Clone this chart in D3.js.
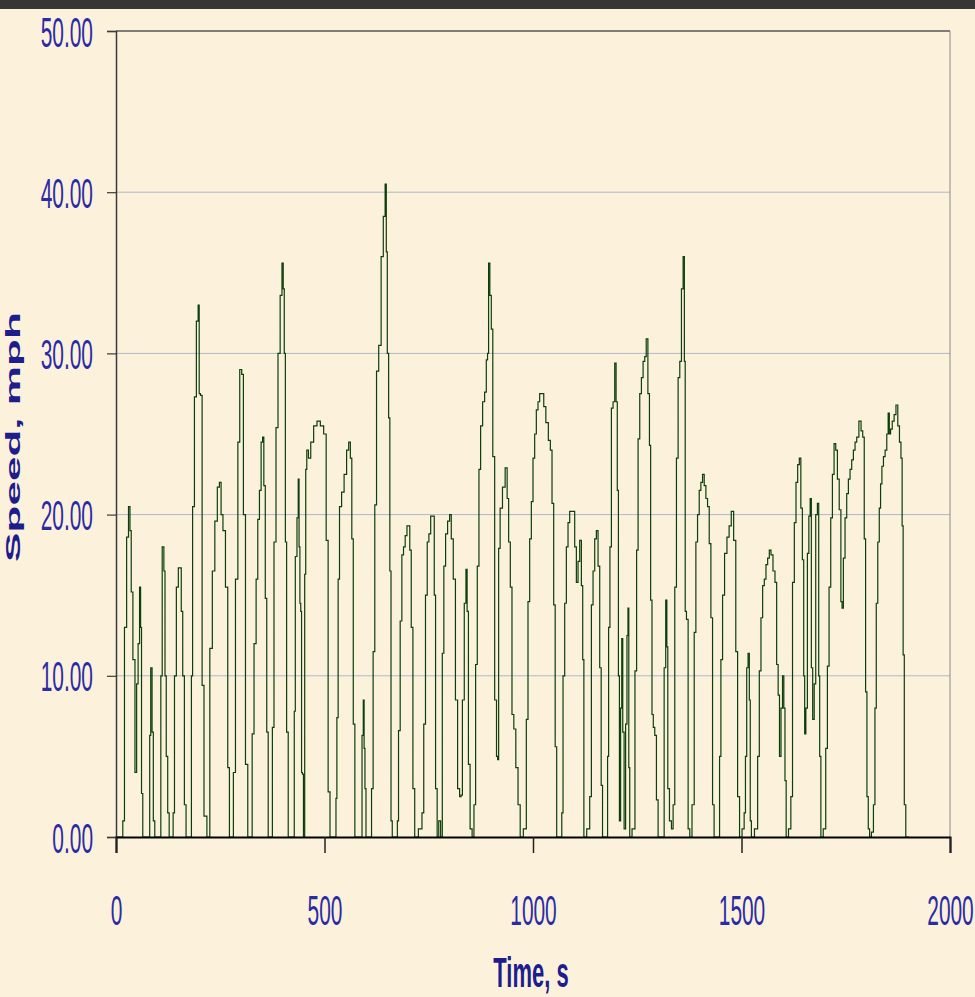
<!DOCTYPE html>
<html>
<head>
<meta charset="utf-8">
<script src="https://cdn.jsdelivr.net/npm/d3@7"></script>
<style>
  body { margin: 0; background: #fcf2dc; }
  svg { display: block; }
</style>
</head>
<body>
<div id="chart"></div>
<script>
// speed trace (time in s, speed in mph)
var timeS = [0, 15, 17.6, 23, 28, 32, 35, 38, 43, 48, 51, 55, 58, 60, 62.4, 66,
  80, 81.6, 85, 88, 91, 95, 107, 108, 113.6, 116, 119, 122, 126, 129,
  136, 138, 142.5, 147, 152, 155, 158, 162, 166, 170, 180, 181.7, 185.7, 190.5, 195, 199, 200, 205, 208, 214, 222,
  228, 234, 240, 246, 250, 254, 259, 266, 270, 274, 280, 283, 290, 294.5, 299, 304, 307, 314, 318,
  325, 328, 334, 338, 342, 346, 350, 353, 356, 360, 363, 367, 374, 376, 381.7, 385.7, 391.3, 396, 400, 402, 405, 407.3, 411, 415,
  427, 428, 432, 436, 438, 440, 442, 444, 446, 448, 451, 454, 456, 459, 464, 470, 478, 486, 494, 502, 506, 511.4, 515,
  527, 528, 531.4, 534, 538, 544, 550, 556, 560, 564, 567, 571, 574.6, 588, 592, 594, 596, 598, 601,
  611, 614.6, 618.6, 622.6, 627, 633, 638.6, 643.4, 647.4, 649, 652.2, 655.4, 658, 661, 664,
  674, 675.5, 679.5, 683.5, 687.5, 691.5, 695.5, 700, 703, 706, 710, 714, 718.7,
  731.5, 736, 740, 744.4, 748.3, 752.3, 757, 762, 764.4, 768.3, 772, 776, 781,
  784, 788.4, 792.4, 798, 802, 806, 811.6, 816.4, 822, 826, 829, 832.4, 838, 840.4, 843.6, 846.7, 851.6, 856.4,
  860.4, 864.4, 868.4, 872.4, 876.4, 882, 886, 890, 892, 895, 898, 902, 905.2, 911, 914, 916.4, 918.8, 923.6, 930, 936.4,
  939.6, 943.6, 947.6, 951.6, 956.4, 961.2, 967, 971.6, 982, 986, 990, 994, 998, 1002, 1006, 1010, 1014, 1018, 1024,
  1027.6, 1034, 1039.6, 1043.6, 1047.6, 1051.6, 1054.8, 1058.8, 1068, 1070, 1074, 1078, 1082, 1086, 1090, 1098, 1102, 1106,
  1110, 1114, 1118, 1120.4, 1123.6, 1134, 1138, 1142, 1146, 1150, 1154, 1158, 1162, 1165, 1168.5,
  1178, 1179.7, 1183, 1186, 1190, 1194, 1198, 1200.5, 1203.7, 1206, 1208.5, 1211.7, 1214, 1216.5, 1220.5, 1223.7, 1227, 1228.5, 1231, 1233,
  1242, 1247, 1250, 1254, 1258, 1262, 1266, 1270, 1273, 1278, 1280.5, 1283.7, 1287, 1290, 1294, 1298, 1302,
  1312.5, 1316.5, 1320, 1322, 1324.5, 1330, 1334, 1338, 1342, 1346, 1350, 1354, 1358, 1362, 1364, 1366, 1370, 1374, 1378,
  1384.6, 1388.6, 1392.6, 1396.6, 1400.6, 1404.6, 1408.6, 1412.6, 1416.6, 1420.6, 1424.6, 1428.6, 1432.6, 1436,
  1446.2, 1448.6, 1452.6, 1456.6, 1462.2, 1468, 1472.6, 1478.3, 1484, 1488.6, 1492.7, 1498,
  1504.7, 1508, 1511, 1514, 1517.5, 1520, 1522, 1525.5,
  1536.7, 1540.7, 1544.7, 1548.7, 1552.7, 1556.7, 1560.7, 1564.7, 1568.7, 1572.7, 1578.3, 1582.3, 1586.3, 1589.5, 1592.7, 1596.7, 1600, 1603, 1605.5, 1608.7,
  1616.7, 1620, 1624.7, 1628.7, 1632.7, 1636.7, 1640.7, 1643.9, 1648, 1650.3, 1652.7, 1656, 1660, 1663, 1666.3, 1668.7, 1672.7, 1676, 1680, 1684, 1686.3, 1688.7, 1692,
  1700, 1704, 1708, 1712, 1716, 1720, 1724, 1728, 1732, 1736.7, 1740, 1742.3, 1746.3, 1750.3, 1754.3, 1758.3, 1762.3, 1766.3, 1770.3, 1774.3, 1778.3, 1784.7, 1788.7, 1792.7, 1796, 1799.2, 1802.4, 1805.6, 1808.8,
  1814.4, 1818.4, 1821.6, 1824.8, 1828.8, 1832, 1835, 1838.4, 1842.4, 1846.4, 1850.4, 1853, 1856, 1859, 1864, 1868, 1872.8, 1876.8, 1880.8, 1884, 1886.4, 1888.8, 1892, 1896, 1902];

var speedMph = [0, 0, 1, 13, 18.6, 20.5, 19, 15.2, 11, 4, 9.5, 12, 15.5, 13, 2.7, 0,
  0, 6.3, 10.5, 6.5, 1, 0, 0, 10, 18, 16.5, 10, 5, 1.5, 0,
  0, 1.5, 10, 15.5, 16.7, 16.7, 14, 10, 2, 0, 0, 10, 20.5, 27.3, 32, 33, 27.5, 27.4, 9.4, 1.3, 0,
  11.7, 16.5, 19.6, 21.7, 22, 20, 19, 15.5, 4.3, 0, 0, 4, 16, 24.5, 29, 28.7, 20, 4.5, 0,
  0, 6.4, 12, 16, 19.7, 21.5, 24.5, 24.8, 21.8, 14.8, 6.5, 0, 0, 6.8, 18.3, 25.4, 30, 33.6, 35.6, 34, 30, 18.3, 6.5, 0,
  0, 7.8, 17.4, 19.8, 22.2, 18, 14.5, 14, 4, 3.9, 0, 16.3, 22.8, 24, 23.5, 24.5, 25.5, 25.8, 25.5, 25, 18.4, 2.8, 0,
  0, 2.4, 7.4, 16, 20.5, 21.4, 22.5, 24, 24.5, 23.5, 18.5, 7, 0, 0, 6.3, 8.5, 5.5, 3, 0,
  0, 3, 11.5, 20.6, 28.9, 30.5, 36, 38.5, 40.5, 36.3, 30, 26, 16.5, 1, 0,
  0, 1, 6.6, 13.4, 17.5, 18, 18.7, 19.3, 19.3, 17.8, 13, 3, 0,
  0.5, 1.5, 7, 15, 18.3, 18.8, 19.9, 19.9, 15, 3, 0, 1, 0,
  11.4, 16.8, 18.8, 19.6, 20, 18.5, 16, 8.5, 3, 2.5, 2.6, 8.5, 14.5, 16.6, 14, 4.5, 0.5, 0,
  2, 10.7, 16.8, 22.8, 25.5, 27, 27.6, 29.6, 30, 35.6, 33.6, 31.5, 23.6, 8.5, 5, 4.8, 17.9, 20.4, 21.7, 22.9,
  21, 18.3, 15.5, 7.6, 6.7, 4.3, 2, 0, 0.5, 7.3, 14.6, 18.5, 20.8, 23.5, 25, 26.5, 27, 27.5, 27.5,
  26.7, 25.7, 24.6, 24, 20.7, 14.4, 5.6, 0, 0, 1.5, 10, 14.5, 18, 19.5, 20.2, 20.2, 18, 15.8,
  17.1, 18.4, 15.6, 11, 0, 0.5, 2.5, 14.4, 16.5, 18.5, 19, 16.8, 10.5, 3.2, 0,
  0, 5, 13, 18, 26.6, 27, 29.4, 27, 21.5, 10, 1, 8, 12.3, 6.5, 0.5, 7, 12.5, 14.2, 4.3, 0,
  0.5, 10.3, 17.8, 24.7, 27.5, 28.5, 29.5, 29.8, 30.9, 27.5, 24.3, 14.7, 7.6, 6.8, 6.3, 2.3, 0,
  0, 10.5, 14.7, 11.8, 3, 1, 0.5, 2, 15.5, 23.5, 28.5, 29.5, 34, 36, 29.5, 14, 13.5, 0.5, 0,
  2, 12.7, 18.3, 20, 21.5, 22, 22.5, 21.8, 21, 20.5, 18.2, 13.6, 2, 0,
  0, 5, 11, 15, 17.6, 18.6, 19.3, 20.2, 18.4, 11.5, 2.5, 0,
  0.5, 1.5, 5, 10.5, 11.4, 8.5, 1, 0,
  0.5, 5, 10.3, 13.6, 15.6, 16, 16.9, 17.3, 17.8, 17.5, 16.5, 15.8, 10.7, 8.8, 5, 8, 10, 8, 3.5, 0,
  0.5, 2.5, 15.8, 19.5, 22, 23.1, 23.5, 20.4, 17.2, 10, 6.4, 8, 17.6, 19.9, 21, 10.5, 7.3, 9.5, 20, 20.7, 10, 5, 0,
  0.5, 5.5, 10.6, 15.5, 19.8, 22.5, 24.4, 24, 22.2, 20.3, 14.6, 14.2, 17.3, 19.8, 21.3, 22.2, 22.8, 23.4, 24, 24.5, 24.8, 25.8, 25.2, 24.8, 18.5, 9, 2.5, 0.5, 0,
  0.3, 2, 8, 14.5, 18.3, 20.4, 21.9, 23, 23.6, 24, 25, 26.3, 25, 25.3, 25.8, 26.2, 26.8, 25.5, 24.5, 23.5, 19.3, 11.3, 2, 0, 0];

var xTicks = [0, 500, 1000, 1500, 2000];
var yTicks = [0, 10, 20, 30, 40, 50];

var data = timeS.map(function(t, i) { return {t: t, v: speedMph[i]}; });

// set the dimensions and margins of the graph
var W = 975, H = 997;
var margin = {top: 31, right: 25, bottom: 160, left: 116},
    width = W - margin.left - margin.right,
    height = H - margin.top - margin.bottom;

var root = d3.select("#chart")
  .append("svg")
    .attr("width", W)
    .attr("height", H);

// parchment background + dark strip on top
root.append("rect")
  .attr("width", W).attr("height", H)
  .attr("fill", "#fcf2dc");
root.append("rect")
  .attr("width", W).attr("height", 9)
  .attr("fill", "#363636");

var svg = root.append("g")
  .attr("transform", "translate(" + margin.left + "," + margin.top + ")");

var x = d3.scaleLinear().domain([0, 2000]).range([0, width]);
var y = d3.scaleLinear().domain([0, 50]).range([height, 0]);

// gridlines
svg.append("g")
  .selectAll("line")
  .data(yTicks.filter(function(d) { return d > 0 && d < 50; }))
  .enter().append("line")
    .attr("x1", 0).attr("x2", width)
    .attr("y1", function(d) { return y(d); })
    .attr("y2", function(d) { return y(d); })
    .attr("stroke", "#aeb7c9")
    .attr("stroke-width", 1);

// top and right frame
svg.append("line")
  .attr("x1", 0).attr("x2", width)
  .attr("y1", y(50)).attr("y2", y(50))
  .attr("stroke", "#555").attr("stroke-width", 1.5);
svg.append("line")
  .attr("x1", width).attr("x2", width)
  .attr("y1", y(50)).attr("y2", y(0))
  .attr("stroke", "#8a8a8a").attr("stroke-width", 1);

// speed line (stair-stepped like the original plot)
svg.append("path")
  .datum(data)
  .attr("fill", "none")
  .attr("stroke", "#0b3f0b")
  .attr("stroke-width", 1.2)
  .attr("d", d3.line()
    .curve(d3.curveStep)
    .x(function(d) { return x(d.t); })
    .y(function(d) { return y(d.v); }));

// Y axis
var yAxis = svg.append("g")
  .call(d3.axisLeft(y).tickValues(yTicks).tickSize(9).tickFormat(d3.format(".2f")));
yAxis.select(".domain").attr("stroke", "#3a3a3a").attr("stroke-width", 1.5);
yAxis.selectAll(".tick line").attr("stroke", "#3a3a3a").attr("stroke-width", 1.2);
yAxis.selectAll("text")
  .attr("x", 0).attr("dy", null).attr("y", 0)
  .attr("transform", "translate(-23,15) scale(0.95,1.9)")
  .style("text-anchor", "end")
  .style("font-family", "'Liberation Sans', Arial, sans-serif")
  .style("font-size", "22px")
  .attr("fill", "#2b2ba6");

// X axis
var xAxis = svg.append("g")
  .attr("transform", "translate(0," + height + ")")
  .call(d3.axisBottom(x).tickValues(xTicks).tickSize(16).tickFormat(d3.format("d")));
xAxis.select(".domain").attr("stroke", "#000").attr("stroke-width", 2);
xAxis.selectAll(".tick line").attr("stroke", "#222").attr("stroke-width", 1.5);
xAxis.selectAll("text")
  .attr("y", 0).attr("dy", null)
  .attr("transform", "translate(0,88) scale(0.95,1.9)")
  .style("text-anchor", "middle")
  .style("font-family", "'Liberation Sans', Arial, sans-serif")
  .style("font-size", "22px")
  .attr("fill", "#2b2ba6");

// axis titles
root.append("text")
  .attr("transform", "translate(20,437) rotate(-90) scale(2.1,1)")
  .style("text-anchor", "middle")
  .style("font-family", "'Liberation Sans', Arial, sans-serif")
  .style("font-weight", "bold")
  .style("font-size", "21px")
  .attr("fill", "#1d1d8e")
  .text("Speed, mph");

root.append("text")
  .attr("transform", "translate(531,987) scale(1,1.9)")
  .style("text-anchor", "middle")
  .style("font-family", "'Liberation Sans', Arial, sans-serif")
  .style("font-weight", "bold")
  .style("font-size", "22px")
  .attr("fill", "#1d1d8e")
  .text("Time, s");
</script>
</body>
</html>
